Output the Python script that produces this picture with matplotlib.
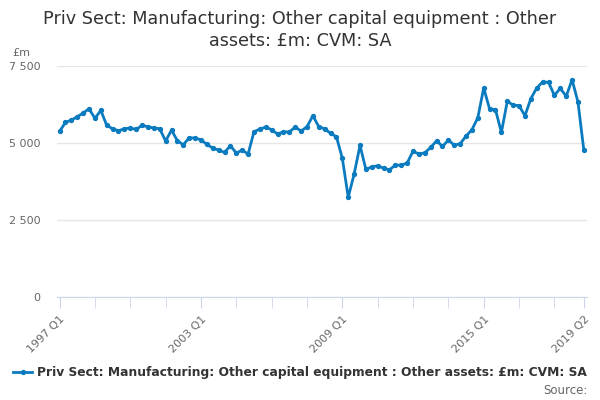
import matplotlib.pyplot as plt
import numpy as np

# quarterly values, 1997 Q1 .. 2019 Q2 (£m, CVM, SA)
years = list(range(1997, 2020))
quarters = [f'{y} Q{q}' for y in years for q in range(1, 5)][:90]
values = [5377, 5669, 5745, 5854, 5973, 6114, 5800, 6060,
          5572, 5463, 5398, 5463, 5485, 5442, 5572, 5528,
          5485, 5463, 5062, 5420, 5073, 4943, 5171, 5160,
          5106, 4954, 4835, 4770, 4694, 4911, 4672, 4770,
          4640, 5366, 5453, 5518, 5431, 5290, 5366, 5355,
          5518, 5388, 5528, 5886, 5528, 5463, 5312, 5203,
          4499, 3241, 3989, 4921, 4141, 4228, 4260, 4184,
          4130, 4282, 4282, 4347, 4737, 4640, 4683, 4856,
          5073, 4889, 5095, 4932, 4976, 5225, 5431, 5821,
          6786, 6103, 6081, 5344, 6352, 6233, 6211, 5886,
          6439, 6786, 6981, 6970, 6547, 6775, 6515, 7057,
          6331, 4759]
series_name = 'Priv Sect: Manufacturing: Other capital equipment : Other assets: £m: CVM: SA'
labelled = ['1997 Q1', '2003 Q1', '2009 Q1', '2015 Q1', '2019 Q2']
yticks = [0, 2500, 5000, 7500]

plt.rcParams['font.family'] = ['DejaVu Sans']
fig = plt.figure(figsize=(6, 4), dpi=100)
ax = fig.add_axes([0.095, 0.2575, 0.883, 0.5775])

x = np.arange(len(values))
ax.plot(x, values, color='#0b7bc0', lw=2, marker='o', ms=2.8,
        label=series_name)

ax.set_xlim(-0.44, len(values) - 1 + 0.5)
ax.set_ylim(0, 7500)
ax.set_yticks(yticks)
ax.set_yticklabels([f'{v:,}'.replace(',', ' ') for v in yticks])
ax.yaxis.grid(True, color='#e6e6e6', lw=1)
ax.set_axisbelow(True)

major = [quarters.index(q) for q in labelled]
ax.set_xticks(major)
ax.set_xticklabels(labelled, rotation=45, ha='right', rotation_mode='anchor')
ax.set_xticks([i for i in range(0, len(values), 6) if i not in major], minor=True)

for s in ['top', 'right', 'left']:
    ax.spines[s].set_visible(False)
ax.spines['bottom'].set_color('#ccd6eb')
ax.tick_params(axis='x', which='both', length=8, color='#ccd6eb',
               labelsize=8, labelcolor='#666666', pad=4)
ax.tick_params(axis='y', length=0, labelsize=8, labelcolor='#666666', pad=12)

fig.suptitle('Priv Sect: Manufacturing: Other capital equipment : Other\nassets: £m: CVM: SA',
             y=0.975, fontsize=12.7, color='#333333', linespacing=1.25)
fig.text(0.02, 0.86, '£m', fontsize=8, color='#666666')

leg = fig.legend(loc='lower center', bbox_to_anchor=(0.5, 0.025), frameon=False,
                 prop={'weight': 'bold', 'size': 8.85}, handlelength=1.6,
                 handletextpad=0.4)
for t in leg.get_texts():
    t.set_color('#333333')
fig.text(0.98, 0.015, 'Source:', ha='right', fontsize=8.5, color='#666666')

fig.savefig('out.png')
